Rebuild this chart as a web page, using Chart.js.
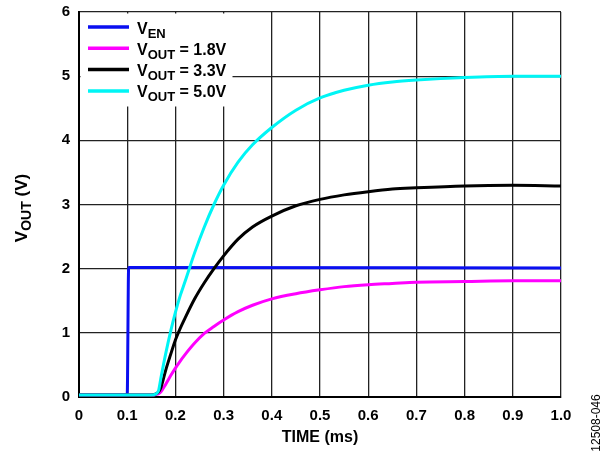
<!DOCTYPE html>
<html>
<head>
<meta charset="utf-8">
<script src="https://cdn.jsdelivr.net/npm/chart.js@4.4.0/dist/chart.umd.min.js"></script>
<style>
  html, body { margin: 0; padding: 0; background: #fff; }
  #wrap { width: 608px; height: 454px; }
</style>
</head>
<body>
<div id="wrap"><canvas id="myChart" width="608" height="454"></canvas></div>
<script>
// enable pin
const venTime   = [0, 0.1, 0.103, 1.0];
const venValues = [0.03, 0.03, 2.02, 2.01];

// output curves share one time base (ms)
const outTime = [0, 0.15, 0.16, 0.165, 0.17, 0.18, 0.19, 0.2, 0.21, 0.22, 0.24, 0.26, 0.28, 0.3,
                 0.33, 0.36, 0.4, 0.45, 0.5, 0.55, 0.6, 0.65, 0.7, 0.8, 0.9, 1.0];
const vout18 = [0.03, 0.03, 0.04, 0.05, 0.08, 0.2, 0.33, 0.45, 0.56, 0.66, 0.84, 0.99, 1.1, 1.2,
                1.33, 1.43, 1.53, 1.61, 1.67, 1.72, 1.75, 1.77, 1.79, 1.80, 1.81, 1.81];
const vout33 = [0.03, 0.03, 0.05, 0.08, 0.15, 0.42, 0.66, 0.89, 1.07, 1.23, 1.53, 1.78, 2.0, 2.2,
                2.46, 2.65, 2.82, 2.98, 3.08, 3.15, 3.2, 3.24, 3.26, 3.29, 3.3, 3.29];
const vout50 = [0.03, 0.03, 0.05, 0.1, 0.3, 0.68, 1.02, 1.32, 1.58, 1.8, 2.25, 2.65, 3.0, 3.3,
                3.66, 3.93, 4.2, 4.47, 4.66, 4.78, 4.86, 4.91, 4.94, 4.98, 5.0, 5.0];

const xTickLabels = ['0', '0.1', '0.2', '0.3', '0.4', '0.5', '0.6', '0.7', '0.8', '0.9', '1.0'];
const yTickLabels = ['0', '1', '2', '3', '4', '5', '6'];

const legendItems = [
  { color: '#0a0ff0', sub: 'EN',  rest: '' },
  { color: '#ff00ff', sub: 'OUT', rest: ' = 1.8V' },
  { color: '#000000', sub: 'OUT', rest: ' = 3.3V' },
  { color: '#00f5f5', sub: 'OUT', rest: ' = 5.0V' }
];

function pts(xs, ys) {
  return xs.map((x, i) => ({ x: x, y: ys[i] }));
}

const FONT = '"Liberation Sans", Arial, sans-serif';

// text like V + subscript + rest, left aligned at x, baseline y
function subText(ctx, x, y, main, sub, rest, size, subSize) {
  ctx.textBaseline = 'alphabetic';
  ctx.textAlign = 'left';
  ctx.font = 'bold ' + size + 'px ' + FONT;
  ctx.fillText(main, x, y);
  x += ctx.measureText(main).width;
  ctx.font = 'bold ' + subSize + 'px ' + FONT;
  ctx.fillText(sub, x, y + 4);
  x += ctx.measureText(sub).width;
  ctx.font = 'bold ' + size + 'px ' + FONT;
  ctx.fillText(rest, x, y);
}

function subWidth(ctx, main, sub, rest, size, subSize) {
  ctx.font = 'bold ' + size + 'px ' + FONT;
  let w = ctx.measureText(main).width + ctx.measureText(rest).width;
  ctx.font = 'bold ' + subSize + 'px ' + FONT;
  return w + ctx.measureText(sub).width;
}

const extras = {
  id: 'extras',
  afterDatasetsDraw(chart) {
    const ctx = chart.ctx;
    const a = chart.chartArea;
    ctx.save();
    // legend box
    ctx.fillStyle = '#fff';
    ctx.fillRect(a.left + 1.5, a.top + 1.5, 152, 93);
    legendItems.forEach((item, i) => {
      const y = a.top + 15 + i * 21.3;
      ctx.strokeStyle = item.color;
      ctx.lineWidth = 3.5;
      ctx.beginPath();
      ctx.moveTo(a.left + 9, y);
      ctx.lineTo(a.left + 50, y);
      ctx.stroke();
      ctx.fillStyle = '#000';
      subText(ctx, a.left + 58, y + 6.5, 'V', item.sub, item.rest, 16, 13);
    });

    // x title
    ctx.fillStyle = '#000';
    ctx.font = 'bold 16px ' + FONT;
    ctx.textAlign = 'center';
    ctx.textBaseline = 'alphabetic';
    ctx.fillText('TIME (ms)', (a.left + a.right) / 2, 442);

    // y title, rotated
    ctx.save();
    ctx.translate(27, 208);
    ctx.rotate(-Math.PI / 2);
    const w = subWidth(ctx, 'V', 'OUT', ' (V)', 17, 14);
    subText(ctx, -w / 2, 0, 'V', 'OUT', ' (V)', 17, 14);
    ctx.restore();

    // figure number
    ctx.save();
    ctx.translate(600, 423);
    ctx.rotate(-Math.PI / 2);
    ctx.font = '12px ' + FONT;
    ctx.textAlign = 'center';
    ctx.textBaseline = 'alphabetic';
    ctx.fillStyle = '#000';
    ctx.fillText('12508-046', 0, 0);
    ctx.restore();

    ctx.restore();
  }
};

const ctx = document.getElementById('myChart').getContext('2d');
const myChart = new Chart(ctx, {
  type: 'line',
  data: {
    datasets: [
      { label: 'VOUT = 5.0V', data: pts(outTime, vout50), borderColor: legendItems[3].color, order: 0 },
      { label: 'VOUT = 3.3V', data: pts(outTime, vout33), borderColor: legendItems[2].color, order: 1 },
      { label: 'VOUT = 1.8V', data: pts(outTime, vout18), borderColor: legendItems[1].color, order: 2 },
      { label: 'VEN', data: pts(venTime, venValues), borderColor: legendItems[0].color, order: 3 }
    ]
  },
  options: {
    responsive: false,
    animation: false,
    layout: { padding: { left: 0, top: 12, right: 47, bottom: 0 } },
    elements: {
      point: { radius: 0 },
      line: { borderWidth: 3, cubicInterpolationMode: 'monotone', fill: false }
    },
    plugins: {
      legend: { display: false },
      tooltip: { enabled: false }
    },
    scales: {
      x: {
        type: 'linear',
        min: 0, max: 1,
        afterFit(scale) {
          scale.height = 57;
          scale.paddingLeft = 0; scale.paddingRight = 0;
        },
        grid: { color: '#222', lineWidth: 1.3, drawTicks: false },
        border: { color: '#000', width: 2 },
        ticks: {
          stepSize: 0.1,
          padding: 10,
          color: '#000',
          font: { family: FONT, size: 15, weight: 'bold' },
          maxRotation: 0,
          callback: (v, i) => xTickLabels[i]
        }
      },
      y: {
        min: 0, max: 6,
        afterFit(scale) {
          scale.width = 79;
          scale.paddingTop = 0; scale.paddingBottom = 0;
        },
        grid: { color: '#222', lineWidth: 1.3, drawTicks: false },
        border: { color: '#000', width: 2 },
        ticks: {
          stepSize: 1,
          padding: 9,
          color: '#000',
          font: { family: FONT, size: 15, weight: 'bold' },
          callback: (v, i) => yTickLabels[i]
        }
      }
    }
  },
  plugins: [extras]
});
</script>
</body>
</html>
